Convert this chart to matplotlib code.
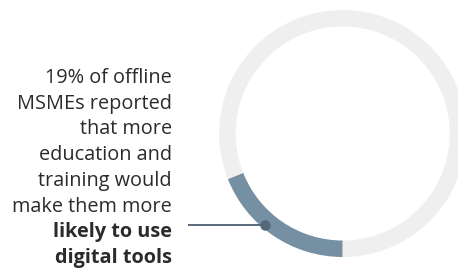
import matplotlib
matplotlib.use("Agg")
import matplotlib.pyplot as plt
import numpy as np

# share of offline MSMEs (percent) and the rest of the ring
shares = [19, 81]
colors = ["#7590a3", "#efefef"]

text_lines = ["19% of offline", "MSMEs reported", "that more", "education and",
              "training would", "make them more", "likely to use", "digital tools"]
bold_lines = [False, False, False, False, False, False, True, True]

W, H = 458, 268
fig = plt.figure(figsize=(W / 100, H / 100), dpi=100)
ax = fig.add_axes([0, 0, 1, 1])

cx, cy = 342.7, H - 133.5
r_out, ring = 123.5, 16.5

ax.pie(shares, colors=colors, startangle=270, counterclock=False,
       radius=r_out, center=(cx, cy),
       wedgeprops=dict(width=ring, linewidth=0))

ax.set_xlim(0, W)
ax.set_ylim(0, H)
ax.set_aspect("equal")
ax.axis("off")

# pointer line and dot on the highlighted segment
ang = np.deg2rad(180 + 49.7)
r_dot = 120
dx, dy = cx + r_dot * np.cos(ang), cy + r_dot * np.sin(ang)
ax.plot([188, dx], [dy, dy], color="#4b5d70", lw=1.3, solid_capstyle="butt")
ax.plot(dx, dy, "o", ms=7.5, color="#52687c", mec="none")

base, step = 82.7, 25.8
for i, (line, bold) in enumerate(zip(text_lines, bold_lines)):
    ax.text(172, H - (base + i * step), line, ha="right", va="baseline",
            fontsize=14.3, family="Open Sans", color="#2b2b2b",
            fontweight="bold" if bold else "normal")

fig.savefig("out.png", dpi=100)
